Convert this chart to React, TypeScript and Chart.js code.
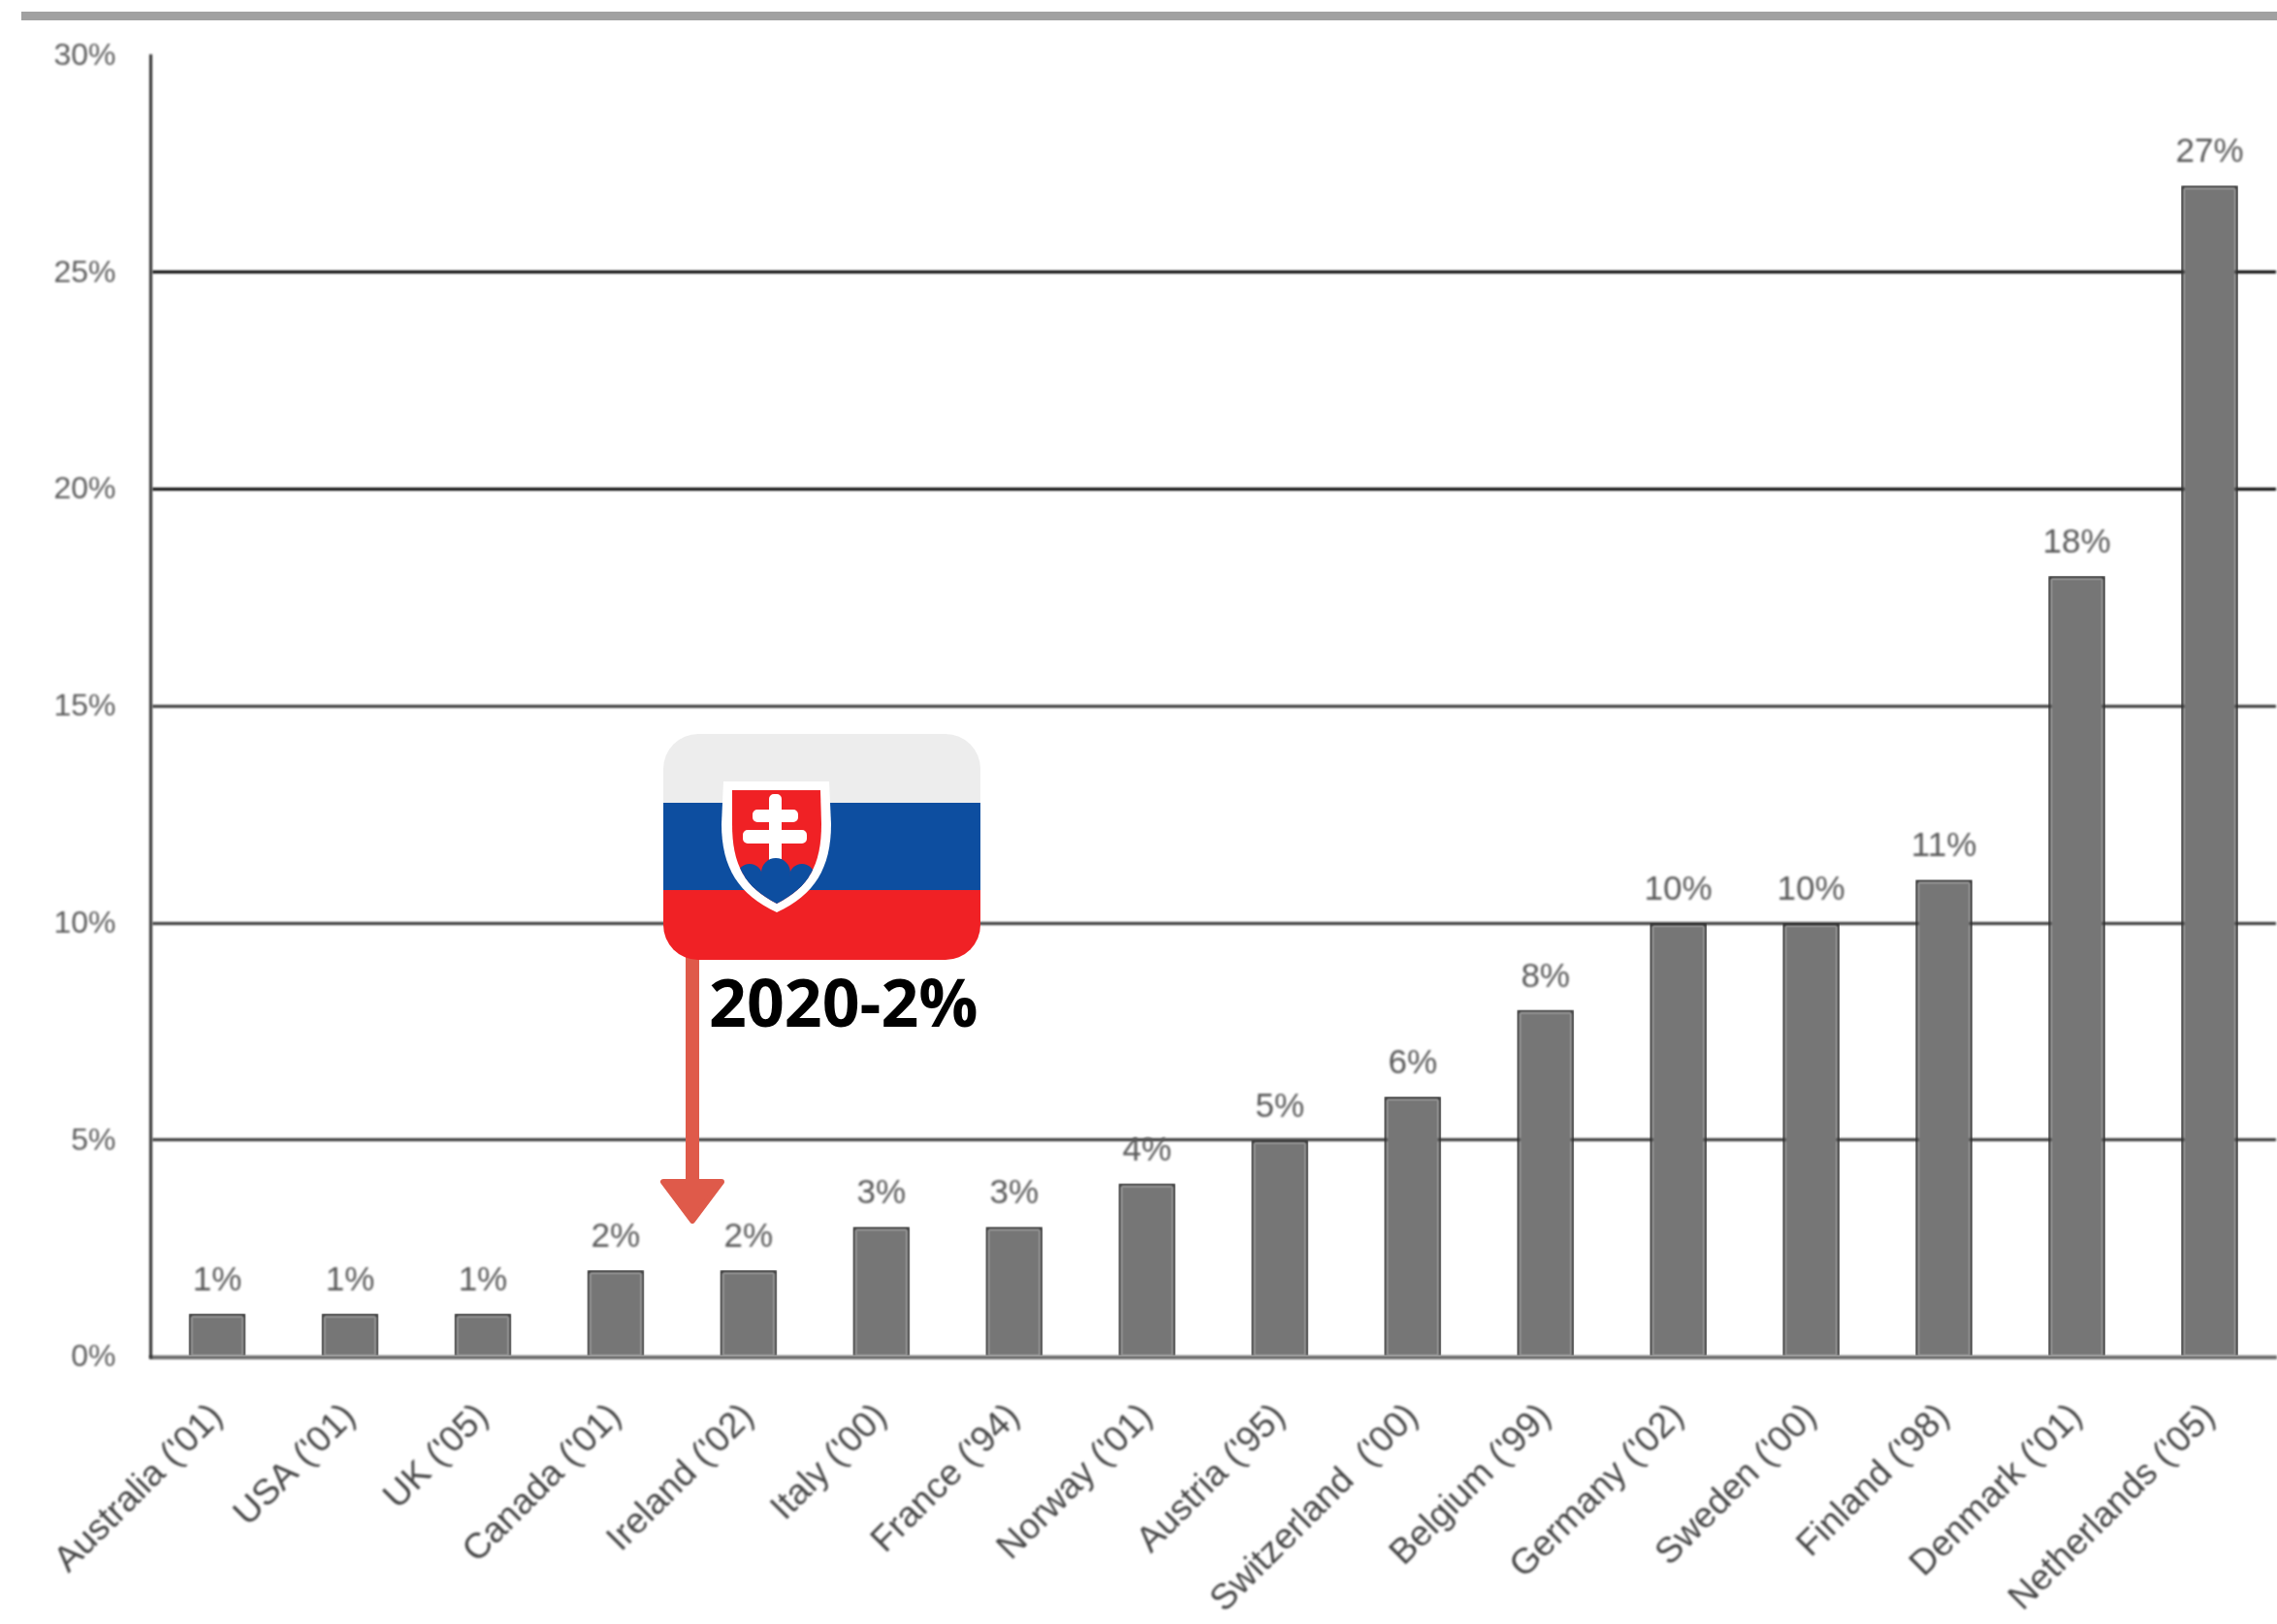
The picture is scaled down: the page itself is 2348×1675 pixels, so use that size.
import React, { useEffect, useRef } from "react";
import { Chart, registerables } from "chart.js";

Chart.register(...registerables);

const categories = [
  "Australia ('01)", "USA ('01)", "UK ('05)", "Canada ('01)", "Ireland ('02)", "Italy ('00)",
  "France ('94)", "Norway ('01)", "Austria ('95)", "Switzerland  ('00)", "Belgium ('99)",
  "Germany ('02)", "Sweden ('00)", "Finland ('98)", "Denmark ('01)", "Netherlands ('05)",
];
const shares = [1, 1, 1, 2, 2, 3, 3, 4, 5, 6, 8, 10, 10, 11, 18, 27];
const axisMax = 30;
const axisStep = 5;
const calloutText = "2020-2%";

const softenPlugin = {
  id: "soften",
  beforeDraw(chart: any) {
    const { ctx } = chart;
    ctx.save();
    ctx.fillStyle = "#ffffff";
    ctx.fillRect(0, 0, chart.width, chart.height);
    ctx.restore();
    ctx.filter = "blur(0.9px)";
  },
};

const valueLabelPlugin = {
  id: "valueLabels",
  afterDatasetsDraw(chart: any) {
    const { ctx } = chart;
    const meta = chart.getDatasetMeta(0);
    ctx.save();
    ctx.font = '35px "Liberation Sans"';
    ctx.fillStyle = "#5a5a5a";
    ctx.textAlign = "center";
    ctx.textBaseline = "alphabetic";
    meta.data.forEach((bar: any, i: number) => {
      ctx.fillText(`${shares[i]}%`, bar.x, bar.y - 24);
    });
    ctx.restore();
  },
};

function roundedFlag(ctx: CanvasRenderingContext2D) {
  ctx.save();
  ctx.beginPath();
  ctx.roundRect(684, 757, 327, 233, 36);
  ctx.clip();
  ctx.fillStyle = "#ededed";
  ctx.fillRect(684, 757, 327, 71);
  ctx.fillStyle = "#0d4ea0";
  ctx.fillRect(684, 828, 327, 90);
  ctx.fillStyle = "#f02125";
  ctx.fillRect(684, 918, 327, 72);
  ctx.restore();

  ctx.save();
  ctx.fillStyle = "#ffffff";
  ctx.beginPath();
  ctx.moveTo(746, 806);
  ctx.lineTo(855, 806);
  ctx.lineTo(857, 850);
  ctx.bezierCurveTo(857, 895, 840, 923, 801, 941);
  ctx.bezierCurveTo(762, 923, 744, 895, 744, 850);
  ctx.closePath();
  ctx.fill();

  const inner = new Path2D();
  inner.moveTo(755, 815);
  inner.lineTo(846, 815);
  inner.lineTo(847, 850);
  inner.bezierCurveTo(847, 892, 834, 915, 801, 932);
  inner.bezierCurveTo(768, 915, 755, 892, 755, 850);
  inner.closePath();
  ctx.fillStyle = "#f02125";
  ctx.fill(inner);

  ctx.fillStyle = "#ffffff";
  ctx.beginPath();
  ctx.roundRect(793, 819, 13, 72, 5);
  ctx.roundRect(776, 835, 47, 13, 5);
  ctx.roundRect(766, 856, 66, 14, 5);
  ctx.fill();

  ctx.clip(inner);
  ctx.fillStyle = "#0d4ea0";
  ctx.beginPath();
  ctx.arc(800, 900, 15, 0, Math.PI * 2);
  ctx.fill();
  ctx.beginPath();
  ctx.arc(773, 904, 13, 0, Math.PI * 2);
  ctx.fill();
  ctx.beginPath();
  ctx.arc(827, 904, 13, 0, Math.PI * 2);
  ctx.fill();
  ctx.fillRect(750, 904, 102, 40);
  ctx.restore();
}

const calloutPlugin = {
  id: "callout",
  afterDraw(chart: any) {
    const { ctx } = chart;
    ctx.filter = "none";
    ctx.save();

    ctx.fillStyle = "#a1a1a1";
    ctx.fillRect(22, 12, chart.width - 22, 9);

    ctx.fillStyle = "#df5a4a";
    ctx.fillRect(707, 985, 14, 233);
    ctx.lineJoin = "round";
    ctx.strokeStyle = "#df5a4a";
    ctx.lineWidth = 6;
    ctx.beginPath();
    ctx.moveTo(684, 1219);
    ctx.lineTo(744, 1219);
    ctx.lineTo(714, 1259);
    ctx.closePath();
    ctx.fill();
    ctx.stroke();

    roundedFlag(ctx);

    ctx.fillStyle = "#000000";
    ctx.font = 'bold 68px "Open Sans"';
    ctx.textAlign = "left";
    ctx.textBaseline = "alphabetic";
    ctx.fillText(calloutText, 731, 1059);
    ctx.restore();
  },
};

export default function App() {
  const ref = useRef<HTMLCanvasElement | null>(null);

  useEffect(() => {
    document.body.style.margin = "0";
    const chart = new Chart(ref.current as HTMLCanvasElement, {
      type: "bar",
      data: {
        labels: categories,
        datasets: [
          {
            data: shares,
            backgroundColor: "#767676",
            borderColor: "#2e2e2e",
            borderWidth: 3,
            barPercentage: 0.43,
            categoryPercentage: 1,
          },
        ],
      },
      plugins: [softenPlugin, valueLabelPlugin, calloutPlugin],
      options: {
        responsive: false,
        animation: false,
        layout: { padding: { top: 57, left: 0, right: 1, bottom: 0 } },
        plugins: { legend: { display: false }, tooltip: { enabled: false }, title: { display: false } },
        scales: {
          x: {
            offset: true,
            grid: { display: false, drawTicks: false },
            border: { color: "#6a6a6a", width: 4 },
            ticks: {
              autoSkip: false,
              maxRotation: 45,
              minRotation: 45,
              padding: 40,
              color: "#474747",
              font: { family: '"Liberation Sans"', size: 37 },
            },
            afterFit(scale: any) {
              scale.height = 275.5;
              scale.paddingLeft = 0;
              scale.paddingRight = 0;
            },
          },
          y: {
            min: 0,
            max: axisMax,
            grid: {
              drawTicks: false,
              lineWidth: 3,
              color: (c: any) => (c.tick.value === axisMax || c.tick.value === 0 ? "rgba(0,0,0,0)" : c.tick.value >= 20 ? "#000000" : "#333333"),
            },
            border: { color: "#2f2f2f", width: 3 },
            ticks: {
              stepSize: axisStep,
              padding: 36,
              labelOffset: 1,
              color: "#5c5c5c",
              font: { family: '"Liberation Sans"', size: 32 },
              callback: (v: any) => `${v}%`,
            },
            afterFit(scale: any) {
              scale.width = 155.5;
              scale.paddingTop = 0;
              scale.paddingBottom = 0;
            },
          },
        },
      },
    } as any);
    return () => chart.destroy();
  }, []);

  return (
    <div style={{ position: "absolute", left: 0, top: 0, width: 2348, height: 1675, background: "#ffffff" }}>
      <canvas ref={ref} width={2348} height={1675} style={{ display: "block" }} />
    </div>
  );
}
